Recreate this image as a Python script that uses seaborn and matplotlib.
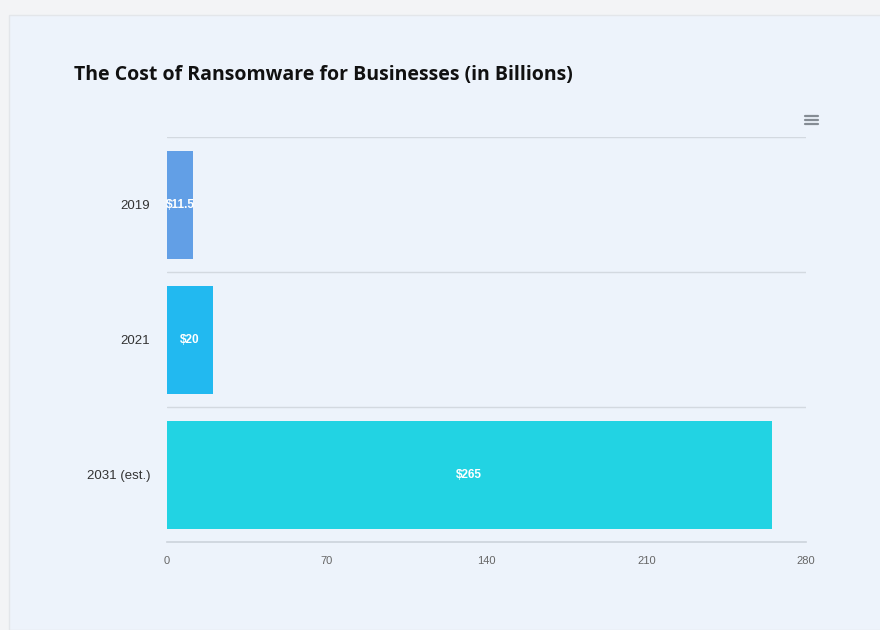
import matplotlib
matplotlib.use("Agg")
import matplotlib.pyplot as plt
import seaborn as sns
import pandas as pd
from matplotlib.patches import Rectangle
from matplotlib.lines import Line2D

categories = ["2019", "2021", "2031 (est.)"]
values = [11.5, 20, 265]
value_labels = ["$11.5", "$20", "$265"]
colors = ["#629fe6", "#22b9f0", "#22d3e3"]
x_ticks = [0, 70, 140, 210, 280]
title = "The Cost of Ransomware for Businesses (in Billions)"

df = pd.DataFrame({"year": categories, "cost": values})

sns.set_theme(style="white")
plt.rcParams['font.family'] = ['Liberation Sans', 'DejaVu Sans']

W, H = 880, 630
fig = plt.figure(figsize=(W / 100, H / 100), dpi=100)
fig.patch.set_facecolor("#f3f4f6")
card_bg = "#edf3fb"
fig.patches.append(Rectangle((9 / W, 0), 1, 1 - 15 / H, transform=fig.transFigure,
                             facecolor=card_bg, edgecolor="#e3e6ea", lw=1, zorder=-5))

ax = fig.add_axes([167 / W, 1 - 542 / H, (806 - 167) / W, (542 - 137) / H])
ax.set_zorder(2)
ax.set_facecolor(card_bg)
sns.barplot(data=df, y="year", x="cost", hue="year", palette=colors, orient="h",
            width=0.8, legend=False, ax=ax, saturation=1, linewidth=0)

ax.set_xlim(0, 280)
ax.set_ylim(2.5, -0.5)
ax.set_xticks(x_ticks)
ax.set_xticklabels([str(t) for t in x_ticks], fontsize=8, color="#666666")
ax.tick_params(axis="x", length=0, pad=10)
ax.tick_params(axis="y", length=0, pad=12, labelsize=9.5, labelcolor="#333333")
ax.set_xlabel("")
ax.set_ylabel("")
for s in ["top", "right", "left"]:
    ax.spines[s].set_visible(False)
ax.spines["bottom"].set_color("#ccd3db")
ax.spines["bottom"].set_linewidth(1.2)
for yb in [-0.5, 0.5, 1.5]:
    ax.axhline(yb, color="#d3d9e0", lw=1, zorder=0)

for i, (v, lab) in enumerate(zip(values, value_labels)):
    ax.text(v / 2, i, lab, ha="center", va="center", color="white",
            fontsize=8.5, fontweight="bold")

fig.text(74 / W, 1 - 75 / H, title, fontsize=14, fontweight="bold",
         color="#111111", ha="left", va="center", family=["Open Sans", "DejaVu Sans"])

for yy in [116, 120, 124]:
    fig.lines.append(Line2D([805 / W, 818 / W], [1 - yy / H, 1 - yy / H],
                            transform=fig.transFigure, color="#858c94", lw=1.6))

fig.savefig("out.png", dpi=100, facecolor=fig.get_facecolor())
